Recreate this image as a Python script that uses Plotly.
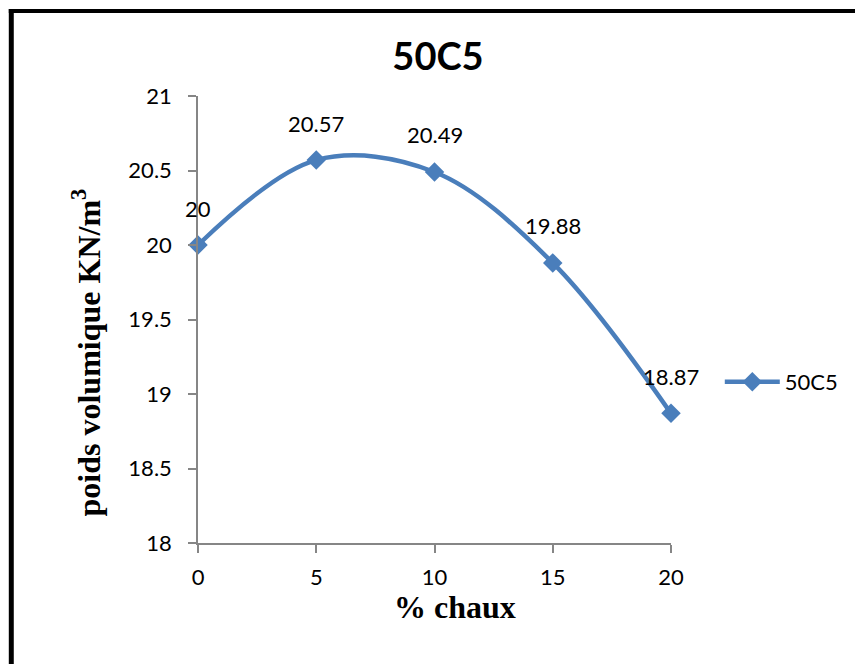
import plotly.graph_objects as go

# Lime content (%) and unit weight (kN/m3) for the 50C5 mix
chaux = [0, 5, 10, 15, 20]
poids = [20.00, 20.57, 20.49, 19.88, 18.87]
labels = ["20", "20.57", "20.49", "19.88", "18.87"]
y_ticks = [18, 18.5, 19, 19.5, 20, 20.5, 21]
x_ticks = [0, 5, 10, 15, 20]

W, H = 855, 664
L, R, T, B = 198, 673, 96, 543  # plot area in pixels

def px_x(p):
    return (p - L) / (R - L)

def px_y(p):
    return (B - p) / (B - T)

blue = "#4A7EBB"
axis_grey = "#868686"
tick_font = dict(family="Lato, Carlito, sans-serif", size=22, color="black")
serif = "Liberation Serif, Times New Roman, serif"

fig = go.Figure()
fig.add_trace(go.Scatter(
    x=chaux, y=poids, name="50C5",
    mode="lines+markers",
    line=dict(color=blue, width=4.5, shape="spline", smoothing=1.0),
    marker=dict(symbol="diamond", size=15, color=blue),
    cliponaxis=False,
))

for xv, yv, t in zip(chaux, poids, labels):
    fig.add_annotation(x=xv, y=yv, text=t, showarrow=False,
                       yshift=37, font=tick_font)

# Axis titles
fig.add_annotation(xref="paper", yref="paper", x=px_x(456), y=px_y(607),
                   text="<b>% chaux</b>", showarrow=False,
                   xanchor="center", yanchor="middle",
                   font=dict(family=serif, size=32, color="black"))
fig.add_annotation(xref="paper", yref="paper", x=px_x(86), y=px_y(352),
                   text="<b>poids volumique KN/m<sup>3</sup></b>", showarrow=False,
                   textangle=-90, xanchor="center", yanchor="middle",
                   font=dict(family=serif, size=32, color="black"))

# Frame drawn on the left and top edges
fig.add_shape(type="rect", xref="paper", yref="paper",
              x0=px_x(8), x1=px_x(13), y0=px_y(H + 10), y1=px_y(9),
              fillcolor="black", line_width=0, layer="above")
fig.add_shape(type="rect", xref="paper", yref="paper",
              x0=px_x(8), x1=px_x(W + 10), y0=px_y(13), y1=px_y(9),
              fillcolor="black", line_width=0, layer="above")

fig.update_layout(
    width=W, height=H,
    margin=dict(l=L, r=W - R, t=T, b=H - B),
    paper_bgcolor="white", plot_bgcolor="white",
    title=dict(text="<b>50C5</b>", x=px_x(439), xref="paper",
               xanchor="center", y=1 - 57 / H, yanchor="middle",
               font=dict(family="Lato, Carlito, sans-serif", size=38, color="black")),
    xaxis=dict(range=[0, 20], tickvals=x_ticks, showgrid=False, zeroline=False,
               showline=True, linecolor=axis_grey, linewidth=1.5,
               ticks="outside", ticklen=8, tickcolor=axis_grey, tickwidth=1.5,
               tickfont=tick_font, ticklabelstandoff=6),
    yaxis=dict(range=[18, 21], tickvals=y_ticks, showgrid=False, zeroline=False,
               showline=True, linecolor=axis_grey, linewidth=1.5,
               ticks="outside", ticklen=8, tickcolor=axis_grey, tickwidth=1.5,
               tickfont=tick_font, ticklabelstandoff=12),
    showlegend=True,
    legend=dict(x=px_x(722), y=px_y(382), xanchor="left", yanchor="middle",
                font=tick_font, itemwidth=55, bgcolor="rgba(0,0,0,0)"),
)

fig.write_html("out.html")
